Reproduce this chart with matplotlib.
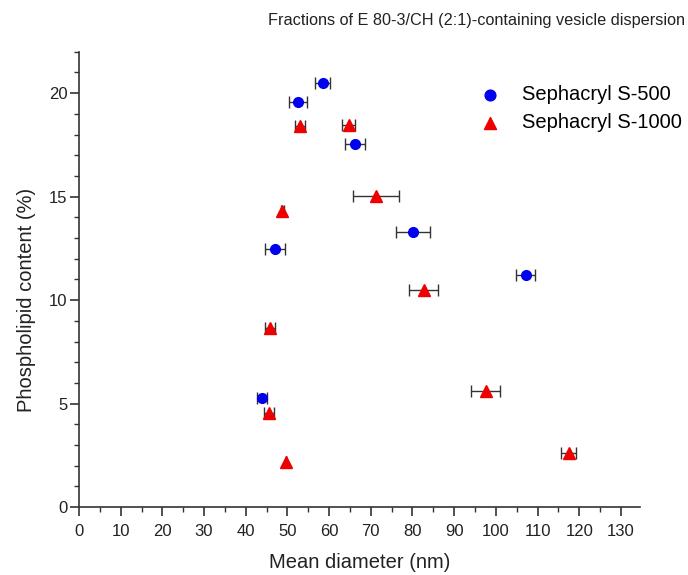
import matplotlib
matplotlib.use("Agg")
import matplotlib.pyplot as plt
from matplotlib.ticker import MultipleLocator

plt.rcParams['font.family'] = ['Liberation Sans', 'DejaVu Sans']

# Sephacryl S-500 (blue circles)
s500_x = [58.5, 52.5, 66.2, 80.1, 47.1, 107.2, 43.9]
s500_y = [20.5, 19.55, 17.55, 13.3, 12.45, 11.2, 5.25]
s500_xerr = [1.8, 2.2, 2.3, 4.0, 2.4, 2.3, 1.1]

# Sephacryl S-1000 (red triangles)
s1000_x = [53.0, 64.7, 48.8, 71.2, 45.8, 82.7, 45.6, 97.6, 117.5, 49.6]
s1000_y = [18.4, 18.45, 14.3, 15.05, 8.65, 10.5, 4.55, 5.6, 2.6, 2.2]
s1000_xerr = [1.3, 1.6, 0.4, 5.5, 1.2, 3.5, 1.1, 3.5, 1.8, 0.0]

x_ticks = list(range(0, 131, 10))
y_ticks = [0, 5, 10, 15, 20]

fig = plt.figure(figsize=(6.88, 5.75), dpi=100)
ax = fig.add_axes([0.1148, 0.118, 0.815, 0.792])

eb_kw = dict(linestyle='none', ecolor='#333333', elinewidth=1.0, capsize=4,
             capthick=1.0, zorder=3)
ax.errorbar(s500_x, s500_y, xerr=s500_xerr, marker='o', markersize=7,
            markerfacecolor='#0000ee', markeredgecolor='#0000ee', **eb_kw)
ax.errorbar(s1000_x, s1000_y, xerr=s1000_xerr, marker='^', markersize=8,
            markerfacecolor='#ee0000', markeredgecolor='#ee0000', **eb_kw)

ax.set_xlim(0, 134.5)
ax.set_ylim(0, 22)
ax.set_xticks(x_ticks)
ax.set_yticks(y_ticks)
ax.xaxis.set_minor_locator(MultipleLocator(5))
ax.yaxis.set_minor_locator(MultipleLocator(1))
ax.tick_params(which='major', direction='out', length=6.2, width=1.2,
               color='#333333', labelsize=12, labelcolor='#222222')
ax.tick_params(axis='x', which='major', pad=6)
ax.tick_params(axis='y', which='major', pad=2)
ax.tick_params(which='minor', direction='out', length=3.3, width=1.0,
               color='#333333')
for s in ['top', 'right']:
    ax.spines[s].set_visible(False)
for s in ['left', 'bottom']:
    ax.spines[s].set_linewidth(1.2)
    ax.spines[s].set_color('#333333')

ax.set_xlabel('Mean diameter (nm)', fontsize=14.5, color='#222222')
ax.set_ylabel('Phospholipid content (%)', fontsize=14.5, color='#222222')
ax.xaxis.set_label_coords(0.50, -0.10)
ax.yaxis.set_label_coords(-0.076, 0.455)
fig.text(0.692, 0.965, 'Fractions of E 80-3/CH (2:1)-containing vesicle dispersion',
         ha='center', va='center', fontsize=11.7, color='#222222')

h1 = ax.scatter([], [], marker='o', s=60, color='#0000ee')
h2 = ax.scatter([], [], marker='^', s=75, color='#ee0000')
ax.legend([h1, h2], ['Sephacryl S-500', 'Sephacryl S-1000'], loc='upper left',
          bbox_to_anchor=(0.683, 0.852), bbox_transform=fig.transFigure,
          borderaxespad=0, borderpad=0, frameon=False, fontsize=14.5,
          handlelength=2.0, handletextpad=0.6, labelspacing=0.45)

fig.savefig('out.png', dpi=100)
